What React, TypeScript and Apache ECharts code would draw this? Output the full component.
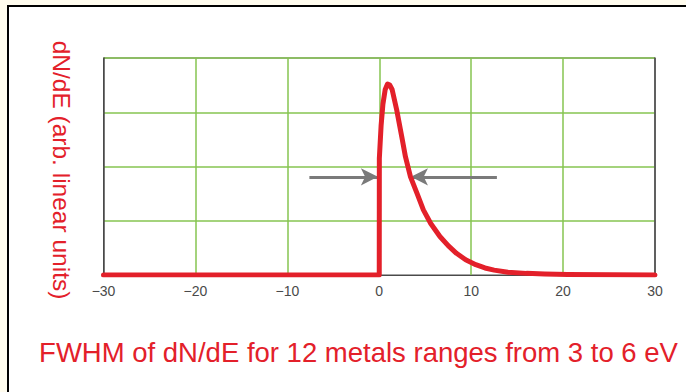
import React, { useEffect, useRef } from "react";
import * as echarts from "echarts";

const energyX = [-30, 0, 0.01, 0.2, 0.4, 0.65, 0.9, 1.15, 1.4, 1.9, 2.45, 2.85, 3.4, 4.1, 4.8, 5.6, 6.6, 7.5, 8.4, 9.4, 10.5, 11.5, 12.5, 14, 16, 18, 20.5, 30];
const dNdE = [0, 0, 2.15, 2.75, 3.15, 3.42, 3.52, 3.5, 3.42, 3.04, 2.55, 2.18, 1.81, 1.51, 1.2, 0.95, 0.71, 0.54, 0.4, 0.28, 0.19, 0.13, 0.09, 0.05, 0.03, 0.02, 0.01, 0];
const xTicks = [-30, -20, -10, 0, 10, 20, 30];
const leftArrow = [[-7.6, 1.81], [-0.15, 1.81]];
const rightArrow = [[12.8, 1.81], [3.45, 1.81]];
const yAxisTitle = "dN/dE (arb. linear units)";
const bottomTitle = "FWHM of dN/dE for 12 metals ranges from 3 to 6 eV";

export default function App() {
  const ref = useRef<HTMLDivElement>(null);
  useEffect(() => {
    if (!ref.current) return;
    const chart = echarts.init(ref.current, undefined, { renderer: "svg" });
    const red = "#e3202a";
    const green = "#86c450";
    const dark = "#4a4a4a";
    chart.setOption({
      animation: false,
      backgroundColor: "transparent",
      grid: {
        left: 103.5,
        top: 58,
        width: 551.5,
        height: 217,
        show: true,
        borderColor: dark,
        borderWidth: 1,
        backgroundColor: "transparent",
      },
      xAxis: {
        type: "value",
        min: xTicks[0],
        max: xTicks[xTicks.length - 1],
        interval: 10,
        axisLine: { show: true, onZero: false, lineStyle: { color: dark, width: 1 } },
        axisTick: { show: false },
        splitLine: { show: true, showMinLine: false, showMaxLine: false, lineStyle: { color: green, width: 1.5 } },
        axisLabel: {
          margin: 9,
          color: dark,
          fontFamily: "Liberation Sans",
          fontSize: 14,
          formatter: (v: number) => String(v).replace("-", "\u2212"),
        },
      },
      yAxis: [
        {
          type: "value",
          min: 0,
          max: 4,
          interval: 1,
          axisLine: { show: true, onZero: false, lineStyle: { color: dark, width: 1.5 } },
          axisTick: { show: false },
          axisLabel: { show: false },
          splitLine: { show: true, showMinLine: false, lineStyle: { color: green, width: 1.5 } },
        },
        {
          type: "value",
          position: "right",
          min: 0,
          max: 4,
          interval: 1,
          axisLine: { show: true, onZero: false, lineStyle: { color: dark, width: 1.5 } },
          axisTick: { show: false },
          axisLabel: { show: false },
          splitLine: { show: false },
        },
      ],
      series: [
        {
          type: "line",
          data: energyX.map((x, i) => [x, dNdE[i]]),
          showSymbol: false,
          symbol: "none",
          lineStyle: { color: red, width: 5, join: "round", cap: "round" },
          z: 5,
          markLine: {
            silent: true,
            symbol: ["none", "arrow"],
            symbolSize: [13, 17],
            label: { show: false },
            lineStyle: { color: "#7a7a7a", width: 3, type: "solid" },
            data: [
              [{ coord: leftArrow[0] }, { coord: leftArrow[1] }],
              [{ coord: rightArrow[0] }, { coord: rightArrow[1] }],
            ],
          },
        },
      ],
      graphic: [
        {
          type: "text",
          x: 61,
          y: 170,
          rotation: -Math.PI / 2,
          style: {
            text: yAxisTitle,
            fill: red,
            font: "24.5px 'Liberation Sans'",
            align: "center",
            verticalAlign: "middle",
          },
        },
        {
          type: "text",
          x: 358.5,
          y: 352,
          style: {
            text: bottomTitle,
            fill: red,
            font: "27.5px 'Liberation Sans'",
            align: "center",
            verticalAlign: "middle",
          },
        },
      ],
    });
    return () => chart.dispose();
  }, []);
  return (
    <div style={{ position: "fixed", left: 0, top: 0, width: 686, height: 392, background: "#fffcee", overflow: "hidden" }}>
      <div style={{ position: "absolute", left: 7, top: 5, width: 700, height: 400, borderLeft: "2px solid #000", borderTop: "2px solid #000", background: "#fff" }} />
      <div ref={ref} style={{ position: "absolute", left: 0, top: 0, width: 686, height: 392 }} />
    </div>
  );
}
